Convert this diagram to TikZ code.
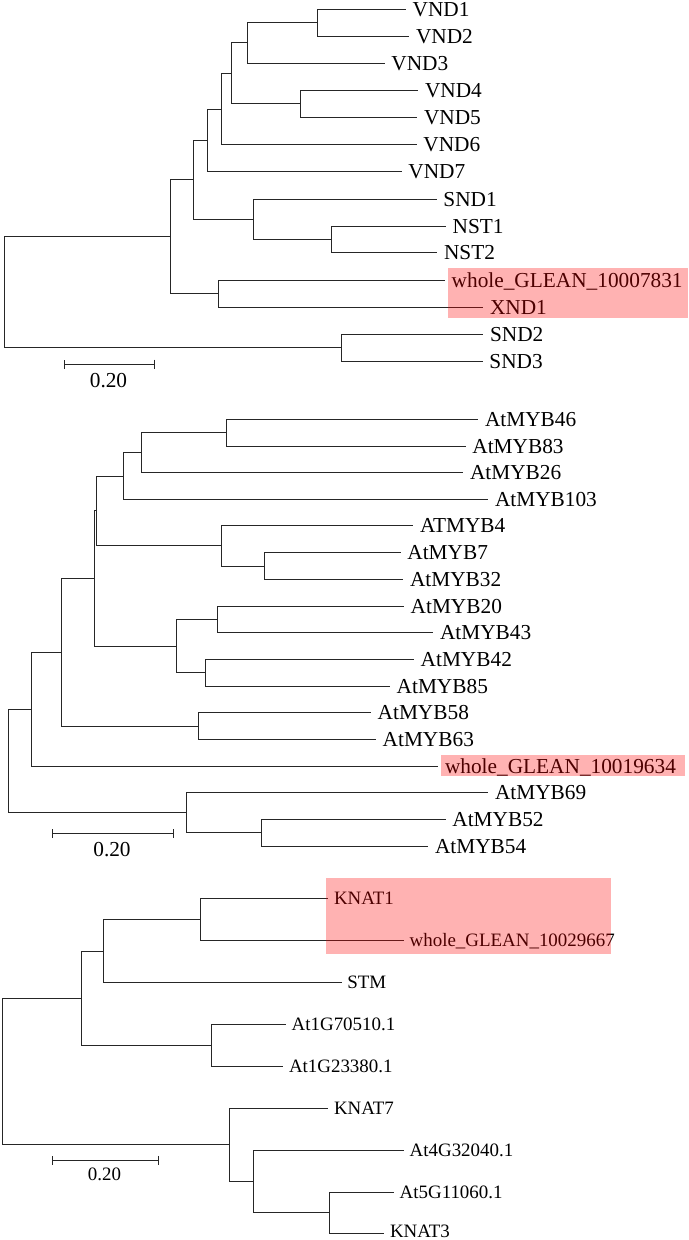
\documentclass[tikz,border=0pt]{standalone}
\usepackage{fontspec}
\setmainfont{Liberation Serif}
\usetikzlibrary{arrows.meta}
\tikzset{
  br/.style={draw=black!85, line width=0.9bp},
  lab/.style={anchor=base west, inner sep=0pt, xshift=6.5bp, yshift=-7.0bp, font=\fontsize{21.4}{25}\selectfont},
  labs/.style={anchor=base west, inner sep=0pt, xshift=5.5bp, yshift=-6.2bp, font=\fontsize{19}{22}\selectfont},
  hl/.style={fill=red, fill opacity=0.3, draw=none},
  sbar/.style={draw=black!85, line width=0.9bp, {Bar[width=9bp]}-{Bar[width=9bp]}},
  sblab/.style={anchor=base, inner sep=0pt, yshift=-7.0bp, font=\fontsize{21.4}{25}\selectfont},
  sblabs/.style={anchor=base, inner sep=0pt, yshift=-6.2bp, font=\fontsize{19}{22}\selectfont}
}
\begin{document}
\begin{tikzpicture}[x=1bp,y=-1bp]
\useasboundingbox (0,0) rectangle (689,1240);
% ---------------- Tree 1 ----------------
\foreach \n/\x/\y/\t in {
  v1/406/9.3/VND1, v2/409.3/36/VND2, v3/384.7/63/VND3, v4/418.3/90.3/VND4,
  v5/417.3/117.3/VND5, v6/416.7/144.7/VND6, v7/401.7/171.7/VND7,
  s1/436.7/199/SND1, n1/446/226/NST1, n2/437.3/252.7/NST2,
  w1/445/280/whole\_GLEAN\_10007831, x1/483.3/307.3/XND1,
  s2/483.3/334/SND2, s3/482.7/361/SND3}
  {\coordinate (\n) at (\x,\y); \node[lab] (t\n) at (\n) {\t};}
\foreach \n/\x/\y in {
  a12/317.3/22.65, a123/247/42.8, a45/300.7/103.8, a15/231.3/73.3,
  a16/221.7/109.0, a17/207.7/140.35, nn/331.7/239.35, sn/253.3/219.2,
  a1s/193/179.8, wx/218.3/293.65, b1/170.3/236.7, ss/341/347.5, r1/4/292.1}
  {\coordinate (\n) at (\x,\y);}
\foreach \p/\c in {a12/v1, a12/v2, a123/a12, a123/v3, a45/v4, a45/v5,
  a15/a123, a15/a45, a16/a15, a16/v6, a17/a16, a17/v7, nn/n1, nn/n2,
  sn/s1, sn/nn, a1s/a17, a1s/sn, wx/w1, wx/x1, b1/a1s, b1/wx,
  ss/s2, ss/s3, r1/b1, r1/ss}
  {\draw[br] (\p) |- (\c);}
\coordinate (sb1a) at (63.7,364); \coordinate (sb1b) at (155,364);
\draw[sbar] (sb1a) -- (sb1b);
\node[sblab] (sb1t) at (108.5,380.8) {0.20};
% ---------------- Tree 2 ----------------
\foreach \n/\x/\y/\t in {
  m46/478.3/419.3/AtMYB46, m83/465.7/446/AtMYB83, m26/463.3/472.7/AtMYB26,
  m103/488.3/499.3/AtMYB103, m4/413.3/525.7/ATMYB4, m7/400.7/552.7/AtMYB7,
  m32/403.3/579.3/AtMYB32, m20/404/606/AtMYB20, m43/433.3/632.7/AtMYB43,
  m42/414/659.3/AtMYB42, m85/390/686/AtMYB85, m58/371/712.7/AtMYB58,
  m63/376/739.3/AtMYB63, w2/438.3/766/whole\_GLEAN\_10019634,
  m69/488.3/792.7/AtMYB69, m52/445.7/819.3/AtMYB52, m54/428.3/846/AtMYB54}
  {\coordinate (\n) at (\x,\y); \node[lab] (t\n) at (\n) {\t};}
\foreach \n/\x/\y in {
  c1/226/432.65, c2/141/452.7, c3/123/476.0, c4/264/566.0, c5/221/545.85,
  c6/96.3/510.9, c7/217.3/619.35, c8/205.7/672.65, c9/176.3/646.0,
  c10/94.3/578.45, c11/198.3/726.0, c12/61.7/652.2, c13/31.7/709.1,
  c14/261.7/832.65, c15/186/812.7, r2/8.7/760.9}
  {\coordinate (\n) at (\x,\y);}
\foreach \p/\c in {c1/m46, c1/m83, c2/c1, c2/m26, c3/c2, c3/m103,
  c4/m7, c4/m32, c5/m4, c5/c4, c6/c3, c6/c5, c7/m20, c7/m43,
  c8/m42, c8/m85, c9/c7, c9/c8, c10/c6, c10/c9, c11/m58, c11/m63,
  c12/c10, c12/c11, c13/c12, c13/w2, c14/m52, c14/m54,
  c15/m69, c15/c14, r2/c13, r2/c15}
  {\draw[br] (\p) |- (\c);}
\coordinate (sb2a) at (52,833.7); \coordinate (sb2b) at (174,833.7);
\draw[sbar] (sb2a) -- (sb2b);
\node[sblab] (sb2t) at (112,849) {0.20};
% ---------------- Tree 3 ----------------
\foreach \n/\x/\y/\t in {
  k1/328.3/898.3/KNAT1, w3/404/940.7/whole\_GLEAN\_10029667,
  stm/341.7/982.7/STM, g7/286/1024.3/At1G70510.1, g2/283.3/1066/At1G23380.1,
  k7/328.3/1108.3/KNAT7, g4/404/1150/At4G32040.1,
  g5/394/1192.3/At5G11060.1}
  {\coordinate (\n) at (\x,\y); \node[labs] (t\n) at (\n) {\t};}
\coordinate (k3) at (384.3,1233.3);
\node[labs, yshift=2.5bp] (tk3) at (k3) {KNAT3};
\foreach \n/\x/\y in {
  d1/200.3/919.5, d2/103.7/951.1, d3/211.7/1045.15, d4/81/998.1,
  d5/329.3/1212.8, d6/253.3/1181.4, d7/229.3/1144.85, r3/2/1071.5}
  {\coordinate (\n) at (\x,\y);}
\foreach \p/\c in {d1/k1, d1/w3, d2/d1, d2/stm, d3/g7, d3/g2,
  d4/d2, d4/d3, d5/g5, d5/k3, d6/g4, d6/d5, d7/k7, d7/d6,
  r3/d4, r3/d7}
  {\draw[br] (\p) |- (\c);}
\coordinate (sb3a) at (51.7,1160.3); \coordinate (sb3b) at (159,1160.3);
\draw[sbar] (sb3a) -- (sb3b);
\node[sblabs] (sb3t) at (104.5,1174) {0.20};
% ---------------- Highlights ----------------
\fill[hl] (448.3,268.3) rectangle (688.3,318.3);
\fill[hl] (441,755) rectangle (685,775.5);
\fill[hl] (326,878.3) rectangle (611,954);
\end{tikzpicture}
\end{document}
